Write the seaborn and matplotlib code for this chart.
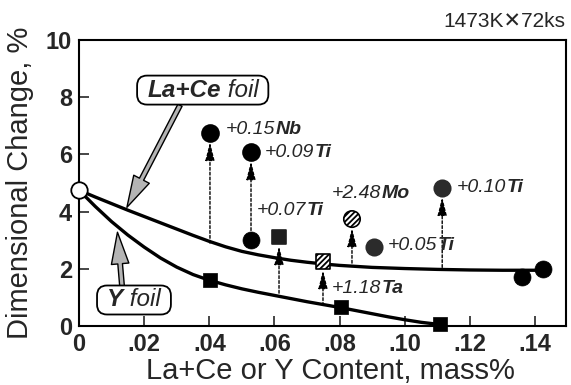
import matplotlib
matplotlib.use("Agg")
import matplotlib.pyplot as plt
import matplotlib.transforms as mtransforms
from matplotlib.patches import FancyBboxPatch, FancyArrowPatch
from matplotlib.transforms import Bbox
import numpy as np
import pandas as pd
import seaborn as sns

# ---------------- data ----------------
lace_curve_x = [0.0, 0.005, 0.01, 0.015, 0.02, 0.025, 0.03, 0.035, 0.04, 0.045,
                0.05, 0.055, 0.06, 0.065, 0.07, 0.075, 0.08, 0.09, 0.10, 0.11,
                0.12, 0.13, 0.141]
lace_curve_y = [4.75, 4.51, 4.28, 4.05, 3.83, 3.61, 3.39, 3.17, 2.96, 2.77,
                2.61, 2.49, 2.39, 2.30, 2.23, 2.17, 2.12, 2.05, 2.01, 1.98,
                1.96, 1.95, 1.95]
yfoil_curve_x = [0.0, 0.005, 0.01, 0.015, 0.02, 0.025, 0.03, 0.035, 0.04, 0.045,
                 0.05, 0.055, 0.06, 0.065, 0.07, 0.075, 0.08, 0.085, 0.09, 0.095,
                 0.10, 0.105, 0.111]
yfoil_curve_y = [4.75, 4.18, 3.65, 3.18, 2.76, 2.38, 2.06, 1.80, 1.60, 1.44,
                 1.30, 1.18, 1.07, 0.96, 0.85, 0.75, 0.65, 0.54, 0.43, 0.32,
                 0.22, 0.13, 0.05]

base_x = [0.0]
base_y = [4.75]
lace_x = [0.0528, 0.136, 0.1425]
lace_y = [3.0, 1.72, 2.0]
yfoil_x = [0.0402, 0.0804, 0.1108]
yfoil_y = [1.6, 0.68, 0.07]

add_amount = ["+0.15", "+0.09", "+0.07", "+1.18", "+2.48", "+0.05", "+0.10"]
add_element = ["Nb", "Ti", "Ti", "Ta", "Mo", "Ti", "Ti"]
add_x = [0.0402, 0.0528, 0.0614, 0.0749, 0.0838, 0.0906, 0.1115]
add_y = [6.75, 6.08, 3.11, 2.27, 3.74, 2.76, 4.83]
add_kind = ["solid", "solid", "speckle_sq", "hatch_sq", "hatch_o", "speckle", "speckle"]
arrow_from_y = [2.9, 3.0, 1.15, 0.72, 2.2, np.nan, 2.05]

x_ticks = [0, 0.02, 0.04, 0.06, 0.08, 0.10, 0.12, 0.14]
x_tick_labels = ["0", ".02", ".04", ".06", ".08", ".10", ".12", ".14"]
y_ticks = [0, 2, 4, 6, 8, 10]
y_tick_labels = ["0", "2", "4", "6", "8", "10"]

x_label = "La+Ce or Y Content, mass%"
y_label = "Dimensional Change, %"
condition = "1473K\u271572ks"

# ---------------- layout / style ----------------
label_offset_px = [(16, 3), (14, 0), (-22, 27), (9, -27), (-20, 26), (14, 2), (15, 0)]
arrow_shrinkA = [0, 7, 0, 0, 0, 0, 0]
kind_style = {
    "solid": dict(marker="o", s=150, color="black", edgecolor="black", hatch=None),
    "speckle": dict(marker="o", s=140, color="#2b2b2b", edgecolor="#2b2b2b", hatch=None),
    "speckle_sq": dict(marker="s", s=115, color="#1e1e1e", edgecolor="#1e1e1e", hatch=None),
    "hatch_sq": dict(marker="s", s=115, color="white", edgecolor="black", hatch="//////"),
    "hatch_o": dict(marker="o", s=140, color="white", edgecolor="black", hatch="//////"),
}

sns.set_theme(style="ticks")
plt.rcParams["font.family"] = ["Liberation Sans", "DejaVu Sans"]
plt.rcParams["hatch.linewidth"] = 1.3

fig = plt.figure(figsize=(5.71, 3.85), dpi=100)
ax = fig.add_axes([0.1384, 0.1532, 0.8528, 0.7428])

# curves
sns.lineplot(x=lace_curve_x, y=lace_curve_y, ax=ax, color="black", lw=2.4,
             sort=False, zorder=2)
sns.lineplot(x=yfoil_curve_x, y=yfoil_curve_y, ax=ax, color="black", lw=2.4,
             sort=False, zorder=2)

# base points
sns.scatterplot(x=base_x, y=base_y, ax=ax, marker="o", s=140, color="white",
                edgecolor="black", linewidth=1.3, zorder=5, clip_on=False)
sns.scatterplot(x=lace_x, y=lace_y, ax=ax, marker="o", s=150, color="black",
                edgecolor="black", linewidth=0.5, zorder=5, clip_on=False)
sns.scatterplot(x=yfoil_x, y=yfoil_y, ax=ax, marker="s", s=115, color="black",
                edgecolor="black", linewidth=0.5, zorder=5, clip_on=False)

# additions
df_add = pd.DataFrame({"x": add_x, "y": add_y, "kind": add_kind})
for kind, grp in df_add.groupby("kind"):
    st = kind_style[kind]
    kw = dict(marker=st["marker"], s=st["s"], color=st["color"],
              edgecolor=st["edgecolor"], linewidth=1.2, zorder=5, clip_on=False)
    if st["hatch"]:
        kw["hatch"] = st["hatch"]
    sns.scatterplot(data=grp, x="x", y="y", ax=ax, **kw)

# dotted arrows
for xi, yi, y0, sa in zip(add_x, add_y, arrow_from_y, arrow_shrinkA):
    if np.isnan(y0):
        continue
    ax.annotate("", xy=(xi, yi), xytext=(xi, y0),
                arrowprops=dict(arrowstyle="-|>,head_length=0.8,head_width=0.2",
                                linestyle=(0, (2, 1.5)), lw=1.0, color="black",
                                shrinkA=sa, shrinkB=6.5, mutation_scale=14),
                zorder=4)

# addition labels
for xi, yi, amt, el, (dx, dy) in zip(add_x, add_y, add_amount, add_element, label_offset_px):
    t1 = ax.annotate(amt, xy=(xi, yi), xytext=(dx, dy), textcoords="offset pixels",
                     ha="left", va="center", fontsize=14, style="italic", zorder=6)
    ax.annotate(el, xy=(1, 0), xycoords=t1, ha="left", va="bottom",
                fontsize=14, style="italic", weight="bold", zorder=6)

# foil labels
ta1 = ax.text(0.0209, 8.25, "La+Ce", ha="left", va="center", fontsize=17.5,
              style="italic", weight="bold", zorder=7)
ta2 = ax.annotate(" foil", xy=(1, 0), xycoords=ta1, ha="left", va="bottom",
                  fontsize=17.5, style="italic", zorder=7)
tb1 = ax.text(0.0086, 0.91, "Y", ha="left", va="center", fontsize=17.5,
              style="italic", weight="bold", zorder=7)
tb2 = ax.annotate(" foil", xy=(1, 0), xycoords=tb1, ha="left", va="bottom",
                  fontsize=17.5, style="italic", zorder=7)

# foil arrows
for start, end in [((0.031, 7.72), (0.0147, 4.15)), ((0.0132, 1.4), (0.0118, 3.28))]:
    arr = FancyArrowPatch(start, end,
                          arrowstyle="simple,head_length=1.9,head_width=1.05,tail_width=0.28",
                          mutation_scale=12, fc="#b4b4b4", ec="black", lw=1.0,
                          shrinkA=0, shrinkB=0, zorder=3)
    ax.add_patch(arr)

# axes styling
ax.set_xlim(0, 0.1495)
ax.set_ylim(0, 10)
ax.set_xticks(x_ticks)
ax.set_xticklabels(x_tick_labels)
ax.set_yticks(y_ticks)
ax.set_yticklabels(y_tick_labels)
ax.tick_params(direction="in", length=7, width=1.2, labelsize=17, pad=5)
for lab in ax.get_xticklabels() + ax.get_yticklabels():
    lab.set_fontweight("bold")
for sp in ax.spines.values():
    sp.set_visible(True)
    sp.set_linewidth(1.5)
    sp.set_color("black")
ax.set_xlabel(x_label, fontsize=21)
ax.set_ylabel(y_label, fontsize=21)
ax.xaxis.set_label_coords(0.517, -0.11)
ax.yaxis.set_label_coords(-0.092, 0.5)

fig.text(0.99, 0.945, condition, ha="right", va="center", fontsize=15,
         family=["Liberation Sans", "DejaVu Sans"])

# rounded boxes around foil labels
fig.canvas.draw()
renderer = fig.canvas.get_renderer()
for parts in [(ta1, ta2), (tb1, tb2)]:
    bb = Bbox.union([p.get_window_extent(renderer) for p in parts])
    padx, pady = 10, 3
    patch = FancyBboxPatch((bb.x0 - padx, bb.y0 - pady), bb.width + 2 * padx,
                           bb.height + 2 * pady,
                           boxstyle="round,pad=0,rounding_size=10",
                           transform=mtransforms.IdentityTransform(),
                           fc="white", ec="black", lw=1.3, zorder=6.5, clip_on=False)
    ax.add_patch(patch)
ax.set_xlim(0, 0.1495)
ax.set_ylim(0, 10)

fig.savefig("out.png", dpi=100)
